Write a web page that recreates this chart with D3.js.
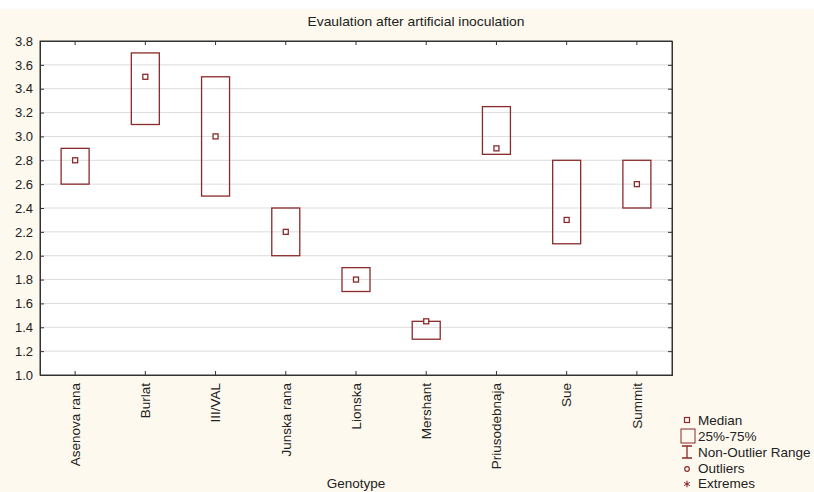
<!DOCTYPE html>
<html>
<head>
<meta charset="utf-8">
<script src="https://cdn.jsdelivr.net/npm/d3@7"></script>
<style>
  body { margin: 0; background: #fdf9ee; }
  svg { display: block; }
  text { font-family: "Liberation Sans", Arial, sans-serif; fill: #222; }
</style>
</head>
<body>
<div id="chart"></div>
<script>
// Box plot: evaluation after artificial inoculation, by genotype
const genotypes = ["Asenova rana", "Burlat", "III/VAL", "Junska rana", "Lionska",
                   "Mershant", "Priusodebnaja", "Sue", "Summit"];
const q1Values     = [2.6, 3.1, 2.5, 2.0, 1.7, 1.3, 2.85, 2.1, 2.4];
const q3Values     = [2.9, 3.7, 3.5, 2.4, 1.9, 1.45, 3.25, 2.8, 2.8];
const medianValues = [2.8, 3.5, 3.0, 2.2, 1.8, 1.45, 2.9, 2.3, 2.6];
const yTicks = [1.0, 1.2, 1.4, 1.6, 1.8, 2.0, 2.2, 2.4, 2.6, 2.8, 3.0, 3.2, 3.4, 3.6, 3.8];
const legendLabels = ["Median", "25%-75%", "Non-Outlier Range", "Outliers", "Extremes"];

const W = 814, H = 492;
const margin = {top: 41, right: 142, bottom: 117, left: 40};
const width = W - margin.left - margin.right,
      height = H - margin.top - margin.bottom;
const boxColor = "#8a2a2a";

const svg = d3.select("#chart").append("svg")
  .attr("width", W).attr("height", H);

svg.append("rect").attr("width", W).attr("height", 9).attr("fill", "#fff");

const g = svg.append("g")
  .attr("transform", "translate(" + margin.left + "," + margin.top + ")");

const x = d3.scaleBand().domain(genotypes).range([0, width]);
const y = d3.scaleLinear().domain([1.0, 3.8]).range([height, 0]);

g.append("rect").attr("width", width).attr("height", height).attr("fill", "#fff");

// gridlines
g.selectAll(".grid").data(yTicks.slice(1, -1)).enter().append("line")
  .attr("x1", 0).attr("x2", width)
  .attr("y1", d => y(d)).attr("y2", d => y(d))
  .attr("stroke", "#dcdcdc").attr("stroke-width", 1);

// axes with inward ticks
const fmt = d3.format(".1f");
const yAxis = g.append("g").call(d3.axisLeft(y).tickValues(yTicks).tickFormat(fmt).tickSize(-4).tickPadding(7));
g.append("g").attr("transform", "translate(" + width + ",0)")
  .call(d3.axisRight(y).tickValues(yTicks).tickFormat("").tickSize(-4));
const xAxis = g.append("g").attr("transform", "translate(0," + height + ")")
  .call(d3.axisBottom(x).tickSize(-4));
g.append("g").call(d3.axisTop(x).tickFormat("").tickSize(-4));

g.selectAll(".domain").attr("stroke", "#333");
g.selectAll(".tick line").attr("stroke", "#333");
yAxis.selectAll("text").style("font-size", "13px").attr("fill", "#222");
xAxis.selectAll("text")
  .style("font-size", "13.5px").attr("fill", "#222")
  .attr("transform", "rotate(-90)")
  .attr("text-anchor", "end")
  .attr("x", -8).attr("y", 0).attr("dy", "0.35em");

g.append("rect").attr("width", width).attr("height", height)
  .attr("fill", "none").attr("stroke", "#333");

// boxes
const boxW = 28;
const data = genotypes.map((name, i) => ({name, q1: q1Values[i], q3: q3Values[i], med: medianValues[i]}));
g.selectAll(".box").data(data).enter().append("rect")
  .attr("x", d => x(d.name) + x.bandwidth() / 2 - boxW / 2)
  .attr("y", d => y(d.q3))
  .attr("width", boxW)
  .attr("height", d => y(d.q1) - y(d.q3))
  .attr("fill", "none").attr("stroke", boxColor).attr("stroke-width", 1.3);

g.selectAll(".med").data(data).enter().append("rect")
  .attr("x", d => x(d.name) + x.bandwidth() / 2 - 2.5)
  .attr("y", d => y(d.med) - 2.5)
  .attr("width", 5).attr("height", 5)
  .attr("fill", "#fff").attr("stroke", boxColor).attr("stroke-width", 1.3);

// title and axis label
svg.append("text").attr("x", 416).attr("y", 26).attr("text-anchor", "middle")
  .style("font-size", "13px").attr("textLength", 217).attr("lengthAdjust", "spacingAndGlyphs")
  .text("Evaulation after artificial inoculation");
svg.append("text").attr("x", margin.left + width / 2).attr("y", 488).attr("text-anchor", "middle")
  .style("font-size", "13.5px").text("Genotype");

// legend
const legend = svg.append("g").attr("transform", "translate(687,0)");
const rowY = [420, 436, 452, 468, 483];
legend.selectAll("text").data(legendLabels).enter().append("text")
  .attr("x", 11).attr("y", (d, i) => rowY[i]).attr("dy", "0.35em")
  .style("font-size", "13.5px").text(d => d);
legend.append("rect").attr("x", -2.5).attr("y", rowY[0] - 2.5).attr("width", 5).attr("height", 5)
  .attr("fill", "none").attr("stroke", boxColor).attr("stroke-width", 1.2);
legend.append("rect").attr("x", -6).attr("y", rowY[1] - 7).attr("width", 14).attr("height", 14)
  .attr("fill", "none").attr("stroke", boxColor).attr("stroke-width", 1);
legend.append("path").attr("d", `M-5,${rowY[2] - 6}H5M0,${rowY[2] - 6}V${rowY[2] + 6}M-5,${rowY[2] + 6}H5`)
  .attr("fill", "none").attr("stroke", boxColor).attr("stroke-width", 1.3);
legend.append("circle").attr("cx", 0).attr("cy", rowY[3] + 1).attr("r", 2.3)
  .attr("fill", "none").attr("stroke", boxColor).attr("stroke-width", 1.2);
legend.append("path").attr("d", d3.symbol(d3.symbolAsterisk, 30)())
  .attr("transform", `translate(0,${rowY[4] + 1})`)
  .attr("fill", "none").attr("stroke", boxColor).attr("stroke-width", 1.1);
</script>
</body>
</html>
